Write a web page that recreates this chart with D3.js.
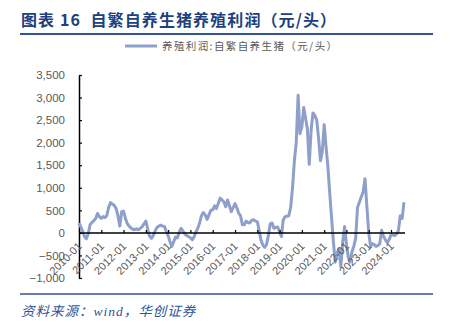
<!DOCTYPE html>
<html>
<head>
<meta charset="utf-8">
<script src="https://cdn.jsdelivr.net/npm/d3@7/dist/d3.min.js"></script>
<style>
  html, body { margin: 0; padding: 0; background: #fff; }
  svg { display: block; }
</style>
</head>
<body>
<svg id="chart" width="453" height="325"></svg>
<script>
// Monthly profit per head, self-bred pigs (元/头), Jan 2010 – Aug 2024
const startMonth = "2010-01";
const profit2010 = [215, 130, 40, -80, -130, -20, 180, 230, 270, 320, 430, 360];
const profit2011 = [320, 360, 340, 380, 560, 670, 640, 610, 540, 380, 150, 470];
const profit2012 = [480, 320, 210, 150, 110, 80, 70, 90, 70, 100, 140, 200];
const profit2013 = [260, 80, -70, -120, -60, 40, 120, 150, 170, 150, 140, 40];
const profit2014 = [-60, -200, -300, -200, -90, -110, 20, 100, 40, -20, -60, -80];
const profit2015 = [-110, -150, -90, 20, 100, 220, 380, 450, 400, 300, 400, 500];
const profit2016 = [510, 600, 540, 650, 770, 730, 690, 580, 730, 600, 470, 560];
const profit2017 = [650, 550, 440, 380, 180, 180, 260, 230, 220, 280, 290, 260];
const profit2018 = [250, 50, -150, -270, -320, -260, -60, 200, 220, 100, 120, 130];
const profit2019 = [20, -80, 280, 360, 370, 380, 560, 1000, 1600, 2000, 3050, 2200];
const profit2020 = [2350, 2780, 2550, 2300, 1520, 2280, 2660, 2600, 2500, 2100, 1600, 1800];
const profit2021 = [2400, 1900, 1500, 900, 350, -200, -650, -450, -350, -750, -200, 140];
const profit2022 = [-250, -550, -650, -420, -300, -120, 560, 680, 800, 900, 1200, 600];
const profit2023 = [0, -300, -240, -260, -300, -280, -240, 60, -80, -150, -220, -150];
const profit2024 = [-40, -50, -60, -20, 50, 380, 320, 680];

const yTicks = [-1000, -500, 0, 500, 1000, 1500, 2000, 2500, 3000, 3500];

const titleText = "图表 16  自繁自养生猪养殖利润（元/头）";
const legendText = "养殖利润:自繁自养生猪（元/头）";
const sourceText = "资料来源：wind，华创证券";

const profitValues = [].concat(profit2010, profit2011, profit2012, profit2013, profit2014,
  profit2015, profit2016, profit2017, profit2018, profit2019, profit2020, profit2021,
  profit2022, profit2023, profit2024);

const parseMonth = d3.timeParse("%Y-%m");
const first = parseMonth(startMonth);
const series = profitValues.map((v, i) => ({ date: d3.timeMonth.offset(first, i), value: v }));

const svg = d3.select("#chart");
const fontLatin = "'Liberation Sans', Arial, sans-serif";
const fontCJK = "'Noto Sans CJK SC', 'Liberation Sans', sans-serif";

// Header
svg.append("text")
  .attr("x", 21).attr("y", 26)
  .attr("font-family", fontCJK).attr("font-weight", "bold")
  .attr("font-size", 16).attr("fill", "#203f7c")
  .attr("letter-spacing", 1.1)
  .attr("xml:space", "preserve")
  .text(titleText);
svg.append("line")
  .attr("x1", 20).attr("x2", 433).attr("y1", 34).attr("y2", 34)
  .attr("stroke", "#2f5597").attr("stroke-width", 2);

// Legend
svg.append("line")
  .attr("x1", 125).attr("x2", 157).attr("y1", 46).attr("y2", 46)
  .attr("stroke", "#8e9fcc").attr("stroke-width", 3);
svg.append("text")
  .attr("x", 162).attr("y", 50)
  .attr("font-family", fontCJK).attr("font-size", 10.5)
  .attr("letter-spacing", 1.4)
  .attr("fill", "#595959")
  .text(legendText);

// Scales
const x = d3.scaleTime()
  .domain([parseMonth("2010-01"), parseMonth("2024-01")])
  .range([79, 391]);
const y = d3.scaleLinear().domain([-1000, 3500]).range([278, 75]);

// Y axis
const yAxis = d3.axisLeft(y)
  .tickValues(yTicks)
  .tickSizeInner(-3).tickSizeOuter(0)
  .tickPadding(14)
  .tickFormat(d3.format(","));
const gy = svg.append("g").attr("transform", "translate(79,0)").call(yAxis);
gy.select(".domain").attr("stroke", "#000").attr("stroke-width", 1.5);
gy.selectAll(".tick line").attr("stroke", "#000").attr("stroke-width", 1.2);
gy.selectAll("text")
  .attr("font-family", fontLatin).attr("font-size", 11.5)
  .attr("fill", "#595959");

// Line
const line = d3.line()
  .x(d => x(d.date))
  .y(d => y(d.value));
svg.append("path")
  .datum(series)
  .attr("fill", "none")
  .attr("stroke", "#8e9fcc")
  .attr("stroke-width", 3)
  .attr("stroke-linejoin", "round")
  .attr("d", line);

// X axis along zero
const xAxis = d3.axisBottom(x)
  .ticks(d3.timeYear.every(1))
  .tickSizeInner(-3).tickSizeOuter(0)
  .tickFormat(d3.timeFormat("%Y-%m"));
const gx = svg.append("g").attr("transform", `translate(0,${y(0)})`).call(xAxis);
gx.select(".domain").attr("d", `M79,0H${x(series[series.length - 1].date) + 1}`)
  .attr("stroke", "#000").attr("stroke-width", 1.5);
gx.selectAll(".tick line").attr("stroke", "#000").attr("stroke-width", 1.2);
gx.selectAll("text")
  .attr("font-family", fontLatin).attr("font-size", 11)
  .attr("fill", "#595959")
  .attr("text-anchor", "end")
  .attr("y", 0).attr("dy", 0)
  .attr("transform", "translate(3,14) rotate(-45)");

// Footer
svg.append("line")
  .attr("x1", 20).attr("x2", 433).attr("y1", 294).attr("y2", 294)
  .attr("stroke", "#2f5597").attr("stroke-width", 1.5);
svg.append("text")
  .attr("x", 21).attr("y", 316)
  .attr("font-family", "'Liberation Serif', 'Noto Sans CJK SC', serif")
  .attr("font-style", "italic")
  .attr("font-size", 13.5)
  .attr("letter-spacing", 1)
  .attr("fill", "#2f5597")
  .text(sourceText);
</script>
</body>
</html>
